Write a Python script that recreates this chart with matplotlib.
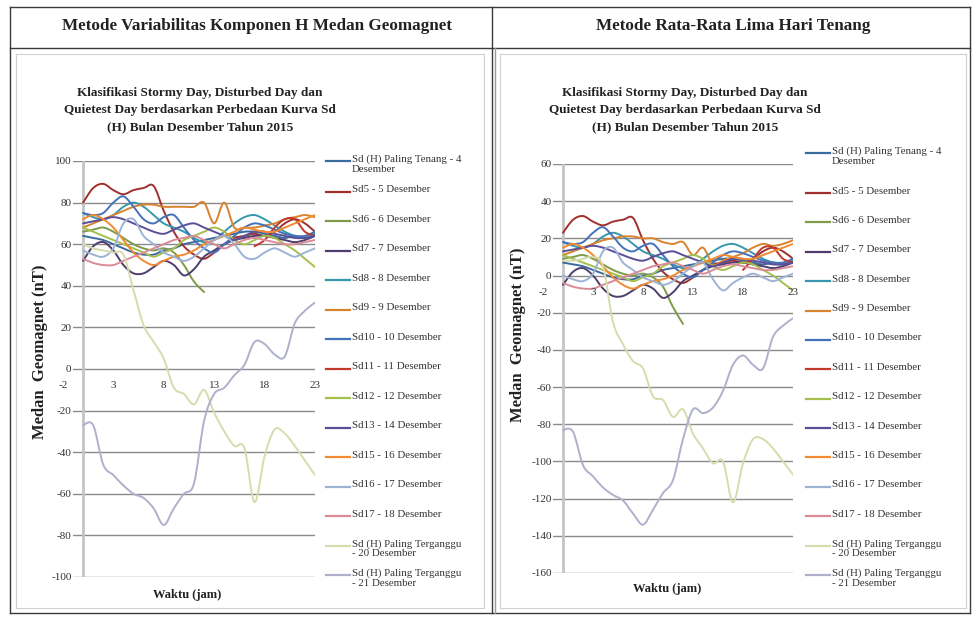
import numpy as np
import matplotlib
matplotlib.use("Agg")
import matplotlib.pyplot as plt
from matplotlib.path import Path
from matplotlib.patches import PathPatch
from matplotlib.lines import Line2D

nan = np.nan
hours = list(range(24))

labels = [
    "Sd (H) Paling Tenang - 4\nDesember", "Sd5 - 5 Desember", "Sd6 - 6 Desember",
    "Sd7 - 7 Desember", "Sd8 - 8 Desember", "Sd9 - 9 Desember", "Sd10 - 10 Desember",
    "Sd11 - 11 Desember", "Sd12 - 12 Desember", "Sd13 - 14 Desember",
    "Sd15 - 16 Desember", "Sd16 - 17 Desember", "Sd17 - 18 Desember",
    "Sd (H) Paling Terganggu\n- 20 Desember", "Sd (H) Paling Terganggu\n- 21 Desember",
]
colors = ["#3d6a9e", "#a0302d", "#7f9a48", "#4e3d6e", "#3797ad", "#d9822f", "#4472b8",
          "#c0392b", "#a5bf4f", "#5b4f99", "#f28a30", "#9db3d6", "#d98c98",
          "#d6dcae", "#aeb0cc"]

# ---- Left chart: Metode Variabilitas Komponen H ----
L_sd4  = [64,63,62,60,58,56,55,55,57,58,60,61,62,63,64,65,66,66,65,64,63,64,63,65]
L_sd5  = [80,87,89,86,84,86,87,88,76,66,59,55,53,56,60,63,64,65,64,66,70,72,70,66]
L_sd6  = [66,67,68,66,63,60,58,57,58,56,50,42,37,nan,nan,nan,nan,nan,nan,nan,nan,nan,nan,nan]
L_sd7  = [52,59,61,57,50,46,46,49,52,50,45,48,54,57,60,62,63,64,64,63,62,61,62,64]
L_sd8  = [75,73,72,74,78,80,78,74,70,68,66,63,61,62,66,70,73,74,72,69,66,64,63,65]
L_sd9  = [68,70,72,74,76,78,79,79,78,78,78,78,80,70,80,68,68,68,69,70,72,73,74,73]
L_sd10 = [75,74,75,80,83,78,72,70,73,74,68,62,58,56,60,64,68,70,69,67,65,64,64,66]
L_sd11 = [nan,nan,nan,nan,nan,nan,nan,nan,nan,nan,nan,nan,nan,nan,nan,nan,nan,59,62,68,72,72,66,64]
L_sd12 = [68,66,64,62,60,58,56,54,56,58,62,64,66,68,66,62,60,62,64,63,60,57,53,49]
L_sd13 = [70,71,72,73,72,70,68,66,65,67,69,70,68,66,64,62,64,66,66,65,64,63,63,64]
L_sd15 = [72,74,72,68,62,56,52,50,52,54,55,57,60,62,64,66,68,67,66,66,68,70,72,74]
L_sd16 = [57,55,54,58,70,72,64,60,56,54,52,54,58,62,64,60,54,53,56,58,56,54,56,58]
L_sd17 = [53,51,50,50,52,54,56,58,60,62,63,64,62,60,58,60,62,63,62,61,60,60,61,62]
L_sd20 = [60,58,57,56,55,38,21,13,5,-9,-12,-17,-10,-21,-30,-37,-38,-64,-42,-29,-31,-37,-44,-51]
L_sd21 = [-27,-27,-46,-51,-56,-60,-62,-67,-75,-67,-60,-55,-25,-12,-9,-3,2,13,12,7,6,22,28,32]

# ---- Right chart: Metode Rata-Rata Lima Hari Tenang ----
R_sd4  = [7,6,5,3,1,-1,-2,-2,0,1,3,4,5,6,7,8,9,9,8,7,6,7,6,8]
R_sd5  = [23,30,32,29,27,29,30,31,19,9,2,-2,-4,-1,3,6,7,8,7,9,13,15,13,9]
R_sd6  = [9,10,11,9,6,3,1,0,1,-1,-6,-17,-26,nan,nan,nan,nan,nan,nan,nan,nan,nan,nan,nan]
R_sd7  = [-5,2,4,0,-7,-11,-11,-8,-5,-7,-12,-9,-3,0,3,5,6,7,7,6,5,4,5,7]
R_sd8  = [18,16,15,17,21,23,21,17,13,11,9,6,4,5,9,13,16,17,15,12,9,7,6,8]
R_sd9  = [11,13,15,17,19,20,21,21,20,20,18,17,18,11,15,6,8,10,12,15,17,16,17,19]
R_sd10 = [18,17,18,23,26,21,15,13,16,17,11,5,1,-1,3,7,11,13,12,10,8,7,7,9]
R_sd11 = [nan,nan,nan,nan,nan,nan,nan,nan,nan,nan,nan,nan,nan,nan,nan,nan,nan,nan,3,9,15,15,9,7]
R_sd12 = [11,9,7,5,3,1,-1,-3,-1,1,5,7,9,11,9,5,3,5,7,6,3,0,-4,-8]
R_sd13 = [13,14,15,16,15,13,11,9,8,10,12,13,11,9,7,5,7,9,9,8,7,6,6,7]
R_sd15 = [15,17,15,11,5,-1,-5,-7,-5,-3,-2,0,3,5,7,9,11,10,9,9,11,13,15,17]
R_sd16 = [0,-2,-3,1,13,15,7,3,-1,-3,-5,-3,1,5,7,-2,-8,-4,-1,1,-1,-3,-1,1]
R_sd17 = [-4,-6,-7,-7,-5,-3,-1,1,3,5,6,7,5,3,1,3,5,6,5,4,3,3,4,5]
R_sd20 = [8,8,9,10,5,-25,-37,-46,-50,-65,-67,-76,-72,-85,-93,-101,-100,-122,-101,-88,-88,-93,-100,-107]
R_sd21 = [-83,-84,-102,-108,-114,-118,-121,-128,-134,-126,-117,-110,-88,-72,-74,-71,-62,-48,-43,-48,-50,-33,-27,-23]

left_series = [L_sd4, L_sd5, L_sd6, L_sd7, L_sd8, L_sd9, L_sd10, L_sd11, L_sd12,
               L_sd13, L_sd15, L_sd16, L_sd17, L_sd20, L_sd21]
right_series = [R_sd4, R_sd5, R_sd6, R_sd7, R_sd8, R_sd9, R_sd10, R_sd11, R_sd12,
                R_sd13, R_sd15, R_sd16, R_sd17, R_sd20, R_sd21]

left_yticks = list(range(-100, 101, 20))
right_yticks = list(range(-160, 61, 20))
xticks = [-2, 3, 8, 13, 18, 23]

SERIF = ["Liberation Serif", "DejaVu Serif"]
W, H = 978, 628
fig = plt.figure(figsize=(W / 100, H / 100), dpi=100)
fig.patch.set_facecolor("white")


def fx(x):
    return x / W


def fy(y):
    return 1 - y / H


def fline(x0, y0, x1, y1, color="#3a3a3a", lw=1.0):
    fig.add_artist(Line2D([fx(x0), fx(x1)], [fy(y0), fy(y1)], color=color, lw=lw,
                          transform=fig.transFigure))


def smooth_path(xs, ys):
    """Excel-style smoothed line (Catmull-Rom Bezier) for each run of valid points."""
    xs = np.asarray(xs, float)
    ys = np.asarray(ys, float)
    verts, codes = [], []
    ok = ~np.isnan(ys)
    i = 0
    n = len(xs)
    while i < n:
        if not ok[i]:
            i += 1
            continue
        j = i
        while j + 1 < n and ok[j + 1]:
            j += 1
        px, py = xs[i:j + 1], ys[i:j + 1]
        m = len(px)
        verts.append((px[0], py[0]))
        codes.append(Path.MOVETO)
        for k in range(m - 1):
            p0 = k - 1 if k > 0 else k
            p3 = k + 2 if k + 2 < m else k + 1
            c1 = (px[k] + (px[k + 1] - px[p0]) / 6, py[k] + (py[k + 1] - py[p0]) / 6)
            c2 = (px[k + 1] - (px[p3] - px[k]) / 6, py[k + 1] - (py[p3] - py[k]) / 6)
            verts += [c1, c2, (px[k + 1], py[k + 1])]
            codes += [Path.CURVE4] * 3
        i = j + 1
    return Path(verts, codes)


def make_chart(rect, series, yticks, ylim):
    ax = fig.add_axes(rect)
    ax.set_xlim(-1, 23)
    ax.set_ylim(*ylim)
    for s in ax.spines.values():
        s.set_visible(False)
    for yv in yticks:
        ax.axhline(yv, color="#8a8a8a", lw=1.0, zorder=1)
    ax.axvline(0, color="#c4c4c4", lw=2.0, zorder=1)
    for ys, c in zip(series, colors):
        ax.add_patch(PathPatch(smooth_path(hours, ys), fill=False, edgecolor=c,
                               lw=1.4, zorder=3, capstyle="round", joinstyle="round"))
    ax.set_yticks(yticks)
    ax.set_yticklabels([str(v) for v in yticks], fontfamily=SERIF, fontsize=8,
                       color="#333333")
    ax.tick_params(axis="y", length=0, pad=1)
    ax.set_xticks([])
    for xv in xticks:
        ax.annotate(str(xv), (xv, 0), xytext=(0, -9), textcoords="offset points",
                    ha="center", va="top", fontfamily=SERIF, fontsize=8,
                    color="#333333", annotation_clip=False)
    return ax


# left chart plot area: x px 73..315 (x=-1..23), y px 161..577
axL = make_chart([fx(73), fy(577), 242 / W, 416 / H], left_series, left_yticks, (-100, 100))
# right chart plot area: x px 553..793, y px 164..573
axR = make_chart([fx(553), fy(573), 240 / W, 409 / H], right_series, right_yticks, (-160, 60))

# ---- table frame ----
fline(10, 7, 970, 7)
fline(10, 48, 970, 48)
fline(10, 613, 970, 613)
fline(10, 7, 10, 613)
fline(970, 7, 970, 613)
fline(492, 7, 492, 613)
fline(495, 48, 495, 613, color="#9a9a9a")
# chart area borders
for x0, x1 in [(16, 484), (500, 966)]:
    fline(x0, 54, x1, 54, color="#d0d0d0", lw=0.8)
    fline(x0, 608, x1, 608, color="#d0d0d0", lw=0.8)
    fline(x0, 54, x0, 608, color="#d0d0d0", lw=0.8)
    fline(x1, 54, x1, 608, color="#d0d0d0", lw=0.8)

# headers
fig.text(fx(257), fy(26), "Metode Variabilitas Komponen H Medan Geomagnet", ha="center",
         va="center", fontfamily=SERIF, fontsize=12.3, fontweight="bold", color="#222222")
fig.text(fx(733), fy(26), "Metode Rata-Rata Lima Hari Tenang", ha="center",
         va="center", fontfamily=SERIF, fontsize=12.3, fontweight="bold", color="#222222")

title = "Klasifikasi Stormy Day, Disturbed Day dan\nQuietest Day berdasarkan Perbedaan Kurva Sd\n(H) Bulan Desember Tahun 2015"
for cx in (200, 685):
    fig.text(fx(cx), fy(110), title, ha="center", va="center", fontfamily=SERIF,
             fontsize=9.5, fontweight="bold", color="#222222", linespacing=1.55)

# axis titles
fig.text(fx(40), fy(352), "Medan  Geomagnet (nT)", rotation=90, ha="center", va="center",
         fontfamily=SERIF, fontsize=12, fontweight="bold", color="#222222")
fig.text(fx(518), fy(335), "Medan  Geomagnet (nT)", rotation=90, ha="center", va="center",
         fontfamily=SERIF, fontsize=12, fontweight="bold", color="#222222")
fig.text(fx(187), fy(595), "Waktu (jam)", ha="center", va="center", fontfamily=SERIF,
         fontsize=9, fontweight="bold", color="#222222")
fig.text(fx(667), fy(589), "Waktu (jam)", ha="center", va="center", fontfamily=SERIF,
         fontsize=9, fontweight="bold", color="#222222")


# legends
def legend(x0, first_y, second_y, step):
    for i, (lab, c) in enumerate(zip(labels, colors)):
        y = first_y if i == 0 else second_y + (i - 1) * step
        fline(x0, y, x0 + 24, y, color=c, lw=1.6)
        fig.text(fx(x0 + 26), fy(y - 6.5), lab, ha="left", va="top", fontfamily=SERIF,
                 fontsize=7.8, color="#333333", linespacing=1.1)


legend(326, 161, 192, 29.46)
legend(806, 153, 193, 29.38)

fig.savefig("out.png", dpi=100, facecolor="white")
